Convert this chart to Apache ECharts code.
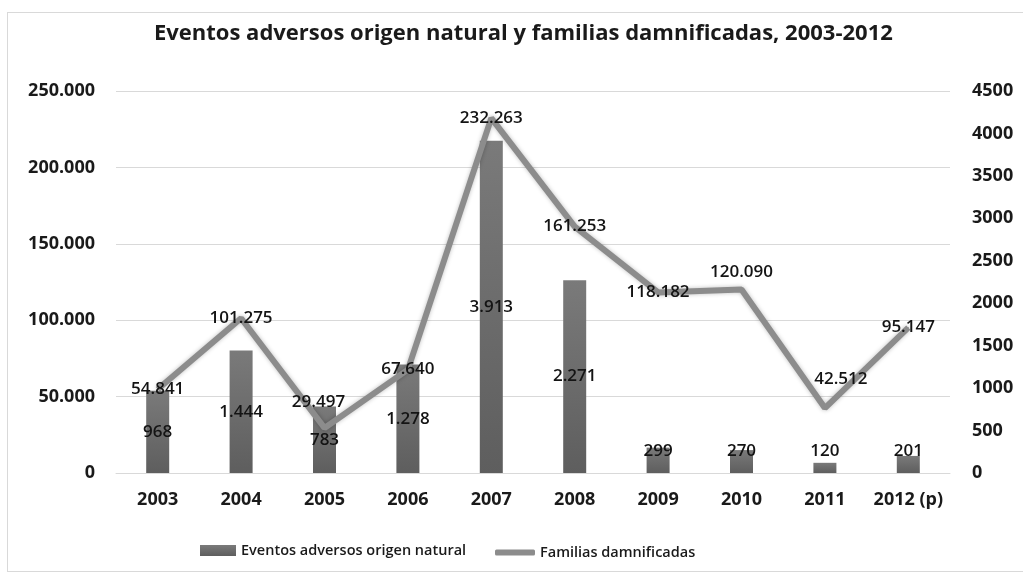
<!DOCTYPE html>
<html>
<head>
<meta charset="utf-8">
<script src="https://cdn.jsdelivr.net/npm/echarts@6/dist/echarts.min.js"></script>
<style>
  html, body { margin: 0; padding: 0; background: #ffffff; }
  #frame {
    position: absolute; left: 7px; top: 12px; width: 1030px; height: 560px;
    border: 1px solid #d9d9d9; box-sizing: border-box;
  }
  #chart { position: absolute; left: 0; top: 0; width: 1023px; height: 579px; }
</style>
</head>
<body>
<div id="frame"></div>
<div id="chart"></div>
<script>
// Years on the category axis
const years = ['2003', '2004', '2005', '2006', '2007', '2008', '2009', '2010', '2011', '2012 (p)'];
// Number of natural adverse events per year (bars, right axis)
const eventos = [968, 1444, 783, 1278, 3913, 2271, 299, 270, 120, 201];
// Affected families per year (line, left axis)
const familias = [54841, 101275, 29497, 67640, 232263, 161253, 118182, 120090, 42512, 95147];

const FONT = '"Open Sans", "Liberation Sans", sans-serif';

// Thousands separator as a dot
function fmt(v) {
  return String(Math.round(v)).replace(/\B(?=(\d{3})+(?!\d))/g, '.');
}

// Label placement tweaks for crowded points (index -> [dx, dy])
const lineLabelShift = { 2: [-6, -26], 7: [0, -17], 8: [16, -29] };
const smallBarLimit = 500;

const lineData = familias.map((v, i) => {
  const s = lineLabelShift[i];
  return s ? { value: v, label: { offset: s } } : v;
});
const barData = eventos.map(v => v < smallBarLimit
  ? { value: v, label: { position: 'insideBottom', distance: 13 } }
  : v);

const axisText = { fontFamily: FONT, fontSize: 18, fontWeight: 'bold', color: '#1a1a1a' };
const valueText = { fontFamily: FONT, fontSize: 17, fontWeight: 600, color: '#141414' };
const legendText = { fontFamily: FONT, fontSize: 14.5, fontWeight: 600, color: '#1a1a1a' };

const chart = echarts.init(document.getElementById('chart'), null, { renderer: 'canvas' });
chart.setOption({
  animation: false,
  backgroundColor: 'transparent',
  title: {
    text: 'Eventos adversos origen natural y familias damnificadas, 2003-2012',
    left: 149, top: 18,
    textStyle: { fontFamily: FONT, fontSize: 22, fontWeight: 'bold', color: '#1a1a1a' }
  },
  legend: [
    {
      data: [{ name: 'Eventos adversos origen natural', icon: 'rect' }],
      left: 195, top: 538, itemWidth: 36, itemHeight: 11,
      textStyle: legendText
    },
    {
      data: [{ name: 'Familias damnificadas', icon: 'roundRect' }],
      left: 490, top: 540, itemWidth: 40, itemHeight: 6,
      textStyle: legendText
    }
  ],
  grid: { left: 116, right: 73, top: 91, bottom: 106 },
  xAxis: {
    type: 'category',
    data: years,
    axisTick: { show: false },
    axisLine: { lineStyle: { color: '#d9d9d9', width: 1 } },
    axisLabel: Object.assign({ margin: 18, interval: 0 }, axisText)
  },
  yAxis: [
    {
      type: 'value', min: 0, max: 250000, interval: 50000,
      axisLine: { show: false }, axisTick: { show: false },
      splitLine: { lineStyle: { color: '#d9d9d9', width: 1 } },
      axisLabel: Object.assign({ margin: 21, formatter: fmt }, axisText)
    },
    {
      type: 'value', min: 0, max: 4500, interval: 500, position: 'right',
      axisLine: { show: false }, axisTick: { show: false },
      splitLine: { show: false },
      axisLabel: Object.assign({ margin: 22, formatter: v => String(v) }, axisText)
    }
  ],
  series: [
    {
      name: 'Eventos adversos origen natural',
      type: 'bar',
      yAxisIndex: 1,
      barWidth: 23,
      data: barData,
      itemStyle: {
        color: new echarts.graphic.LinearGradient(0, 0, 0, 1, [
          { offset: 0, color: '#7a7a7a' },
          { offset: 1, color: '#5e5e5e' }
        ])
      },
      label: Object.assign({ show: true, position: 'inside', formatter: p => fmt(p.value) }, valueText),
      z: 2
    },
    {
      name: 'Familias damnificadas',
      type: 'line',
      yAxisIndex: 0,
      data: lineData,
      showSymbol: true,
      symbol: 'circle',
      symbolSize: 1,
      lineStyle: { color: '#8c8c8c', width: 6, shadowColor: 'rgba(0,0,0,0.25)', shadowBlur: 4 },
      itemStyle: { color: '#8c8c8c' },
      label: Object.assign({ show: true, position: 'inside', formatter: p => fmt(p.value) }, valueText),
      z: 3
    }
  ]
});
</script>
</body>
</html>
